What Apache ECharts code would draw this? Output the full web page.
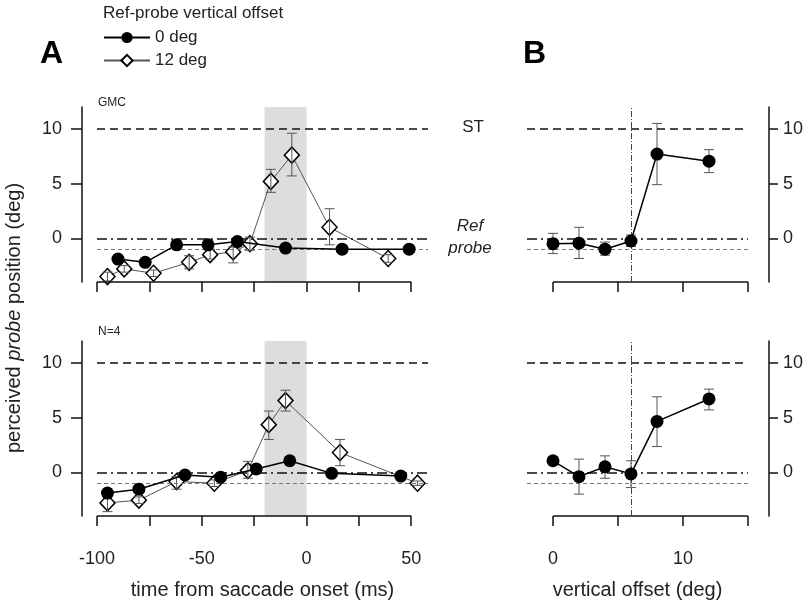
<!DOCTYPE html>
<html>
<head>
<meta charset="utf-8">
<script src="https://cdn.jsdelivr.net/npm/echarts@6/dist/echarts.min.js"></script>
<style>
  html, body { margin: 0; padding: 0; background: #fff; }
  #main { width: 812px; height: 601px; }
</style>
</head>
<body>
<div id="main"></div>
<script>
// A, top panel (GMC) - 0 deg offset
var gmcTime0 = [-90, -77, -62, -47, -33, -10, 17, 49];
var gmcPos0 = [-1.9, -2.2, -0.6, -0.6, -0.3, -0.9, -1.0, -1.0];
// A, top panel (GMC) - 12 deg offset
var gmcTime12 = [-95, -87, -73, -56, -46, -35, -27, -17, -7, 11, 39];
var gmcPos12 = [-3.5, -2.8, -3.2, -2.2, -1.5, -1.25, -0.5, 5.2, 7.6, 1.0, -1.85];
var gmcLo12 = [-3.9, -3.1, -3.5, -2.8, -1.9, -2.25, -1.1, 4.2, 5.7, -0.6, -2.2];
var gmcHi12 = [-3.1, -2.5, -2.9, -1.6, -1.0, -0.8, 0.1, 6.3, 9.6, 2.7, -1.5];

// A, bottom panel (N=4)
var allTime0 = [-95, -80, -58, -41, -24, -8, 12, 45];
var allPos0 = [-1.9, -1.55, -0.25, -0.45, 0.3, 1.05, -0.1, -0.35];
var allTime12 = [-95, -80, -62, -44, -28, -18, -10, 16, 53];
var allPos12 = [-2.8, -2.55, -0.85, -1.0, 0.15, 4.35, 6.55, 1.8, -1.0];
var allLo12 = [-3.6, -2.85, -1.55, -1.3, -0.55, 3.0, 5.6, 0.6, -1.2];
var allHi12 = [-2.2, -2.25, -0.4, -0.7, 1.0, 5.6, 7.5, 3.0, -0.8];

// B, vertical offset panels
var offsets = [0, 2, 4, 6, 8, 12];
var gmcOffPos = [-0.5, -0.45, -1.0, -0.25, 7.7, 7.05];
var gmcOffLo = [-1.4, -1.85, -1.55, -0.75, 4.9, 6.0];
var gmcOffHi = [0.45, 1.0, -0.35, 0.3, 10.5, 8.1];
var allOffPos = [1.05, -0.4, 0.5, -0.15, 4.65, 6.7];
var allOffLo = [1.05, -2.0, -0.55, -1.4, 2.35, 5.7];
var allOffHi = [1.05, 1.2, 1.5, 1.05, 6.9, 7.6];

// ticks
var timeTicks = [-100, -75, -50, -25, 0, 25, 50];
var timeLabels = [-100, -50, 0, 50];
var offTicks = [0, 5, 10, 15];
var offLabels = [0, 10];
var posTicks = [0, 5, 10];

var FONT = 'Arial, "Liberation Sans", sans-serif';

var myChart = echarts.init(document.getElementById('main'));

function zip(a, b) {
    return a.map(function (v, i) { return [v, b[i]]; });
}
function zip3(a, b, c) {
    return a.map(function (v, i) { return [v, b[i], c[i]]; });
}

function renderErr(params, api) {
    var x = api.value(0);
    var a = api.coord([x, api.value(2)]);
    var b = api.coord([x, api.value(1)]);
    var w = 5;
    var st = { stroke: '#555', lineWidth: 1 };
    return {
        type: 'group',
        children: [
            { type: 'line', shape: { x1: a[0], y1: a[1], x2: b[0], y2: b[1] }, style: st },
            { type: 'line', shape: { x1: a[0] - w, y1: a[1], x2: a[0] + w, y2: a[1] }, style: st },
            { type: 'line', shape: { x1: b[0] - w, y1: b[1], x2: b[0] + w, y2: b[1] }, style: st }
        ]
    };
}

function refLines(xMin, xEnd, vLine) {
    var d = [
        { yAxis: 10, lineStyle: { color: '#111', width: 1.5, type: [8, 5] } },
        { yAxis: 0, lineStyle: { color: '#111', width: 1.5, type: [10, 4, 2, 4] } },
        { yAxis: -1, lineStyle: { color: '#777', width: 1, type: [4, 3] } },
        [{ coord: [xMin, -4], lineStyle: { color: '#111', width: 1.5, type: 'solid' } }, { coord: [xEnd, -4] }]
    ];
    if (vLine != null) {
        d.push({ xAxis: vLine, lineStyle: { color: '#444', width: 1, type: [6, 2, 1, 2] } });
    }
    return {
        silent: true,
        symbol: 'none',
        label: { show: false },
        animation: false,
        data: d
    };
}

function circleSeries(name, idx, data, marks, area) {
    var s = {
        name: name,
        type: 'line',
        xAxisIndex: idx,
        yAxisIndex: idx,
        data: data,
        symbol: 'circle',
        symbolSize: 13,
        z: 5,
        lineStyle: { color: '#000', width: 1.5 },
        itemStyle: { color: '#000' },
        markLine: marks
    };
    if (area) {
        s.markArea = {
            silent: true,
            itemStyle: { color: 'rgba(200,200,200,0.62)' },
            data: [[{ xAxis: -20 }, { xAxis: 0 }]]
        };
    }
    return s;
}

function diamondSeries(idx, data) {
    return {
        name: '12 deg',
        type: 'line',
        xAxisIndex: idx,
        yAxisIndex: idx,
        data: data,
        symbol: 'diamond',
        symbolSize: [15, 16],
        z: 3,
        lineStyle: { color: '#555', width: 1 },
        itemStyle: { color: '#fff', borderColor: '#000', borderWidth: 1.5 }
    };
}

function errSeries(idx, data) {
    return {
        type: 'custom',
        xAxisIndex: idx,
        yAxisIndex: idx,
        renderItem: renderErr,
        encode: { x: 0, y: [1, 2] },
        data: data,
        z: 4,
        silent: true
    };
}

function xAxisCfg(grid, min, max, ticks, labels, showLabels, name) {
    return {
        type: 'value',
        gridIndex: grid,
        min: min,
        max: max,
        splitLine: { show: false },
        axisLine: { show: false, onZero: false },
        axisTick: { show: true, customValues: ticks, length: 10, inside: false, lineStyle: { color: '#111', width: 1.5 } },
        axisLabel: { show: showLabels, customValues: labels, fontSize: 18, color: '#222', margin: 34, fontFamily: FONT },
        name: name,
        nameLocation: 'middle',
        nameGap: 64,
        nameTextStyle: { fontSize: 20, color: '#222', fontFamily: FONT }
    };
}

function yAxisCfg(grid, pos, offset, margin, tickLen) {
    return {
        type: 'value',
        gridIndex: grid,
        position: pos,
        offset: offset,
        min: -4,
        max: 12,
        splitLine: { show: false },
        axisLine: { show: true, onZero: false, lineStyle: { color: '#111', width: 1.5 } },
        axisTick: { show: true, customValues: posTicks, length: tickLen, inside: false, lineStyle: { color: '#111', width: 1.5 } },
        axisLabel: { customValues: posTicks, fontSize: 18, color: '#222', margin: margin, fontFamily: FONT }
    };
}

var option = {
    animation: false,
    backgroundColor: '#fff',
    textStyle: { fontFamily: FONT },
    title: {
        text: 'Ref-probe vertical offset',
        left: 98,
        top: 0,
        textStyle: { fontSize: 17, fontWeight: 'normal', color: '#222', fontFamily: FONT }
    },
    legend: {
        data: ['0 deg', '12 deg'],
        orient: 'vertical',
        left: 98,
        top: 24,
        itemGap: 6,
        itemWidth: 46,
        itemHeight: 14,
        textStyle: { fontSize: 17, color: '#222', fontFamily: FONT }
    },
    grid: [
        { left: 97, top: 107, width: 331, height: 175 },
        { left: 97, top: 341, width: 331, height: 175 },
        { left: 527, top: 107, width: 221, height: 175 },
        { left: 527, top: 341, width: 221, height: 175 }
    ],
    xAxis: [
        xAxisCfg(0, -100, 58, timeTicks, timeLabels, false, ''),
        xAxisCfg(1, -100, 58, timeTicks, timeLabels, true, 'time from saccade onset (ms)'),
        xAxisCfg(2, -2, 15, offTicks, offLabels, false, ''),
        xAxisCfg(3, -2, 15, offTicks, offLabels, true, 'vertical offset (deg)')
    ],
    yAxis: [
        yAxisCfg(0, 'left', 15, 20, 11),
        yAxisCfg(1, 'left', 15, 20, 11),
        yAxisCfg(2, 'right', 21, 14, 9),
        yAxisCfg(3, 'right', 21, 14, 9)
    ],
    graphic: [
        { type: 'text', left: 40, top: 38, style: { text: 'A', font: 'bold 32px ' + FONT, fill: '#000' } },
        { type: 'text', left: 523, top: 38, style: { text: 'B', font: 'bold 32px ' + FONT, fill: '#000' } },
        { type: 'text', left: 98, top: 97, style: { text: 'GMC', font: '12px ' + FONT, fill: '#222' } },
        { type: 'text', left: 98, top: 326, style: { text: 'N=4', font: '12px ' + FONT, fill: '#222' } },
        { type: 'text', x: 473, y: 127, style: { text: 'ST', font: '17px ' + FONT, fill: '#222', align: 'center', verticalAlign: 'middle' } },
        { type: 'text', x: 470, y: 226, style: { text: 'Ref', font: 'italic 17px ' + FONT, fill: '#222', align: 'center', verticalAlign: 'middle' } },
        { type: 'text', x: 470, y: 248, style: { text: 'probe', font: 'italic 17px ' + FONT, fill: '#222', align: 'center', verticalAlign: 'middle' } },
        {
            type: 'text', x: 14, y: 318, rotation: Math.PI / 2,
            style: {
                text: 'perceived {i|probe} position (deg)',
                font: '20px ' + FONT, fill: '#222', align: 'center', verticalAlign: 'middle',
                rich: { i: { fontStyle: 'italic', fontSize: 20, fontFamily: FONT, fill: '#222' } }
            }
        }
    ],
    series: [
        // A top
        diamondSeries(0, zip(gmcTime12, gmcPos12)),
        errSeries(0, zip3(gmcTime12, gmcLo12, gmcHi12)),
        circleSeries('0 deg', 0, zip(gmcTime0, gmcPos0), refLines(-100, 50, null), true),
        // A bottom
        diamondSeries(1, zip(allTime12, allPos12)),
        errSeries(1, zip3(allTime12, allLo12, allHi12)),
        circleSeries('0 deg', 1, zip(allTime0, allPos0), refLines(-100, 50, null), true),
        // B top
        errSeries(2, zip3(offsets, gmcOffLo, gmcOffHi)),
        circleSeries('0 deg', 2, zip(offsets, gmcOffPos), refLines(0, 15, 6), false),
        // B bottom
        errSeries(3, zip3(offsets, allOffLo, allOffHi)),
        circleSeries('0 deg', 3, zip(offsets, allOffPos), refLines(0, 15, 6), false)
    ]
};

myChart.setOption(option);
</script>
</body>
</html>
